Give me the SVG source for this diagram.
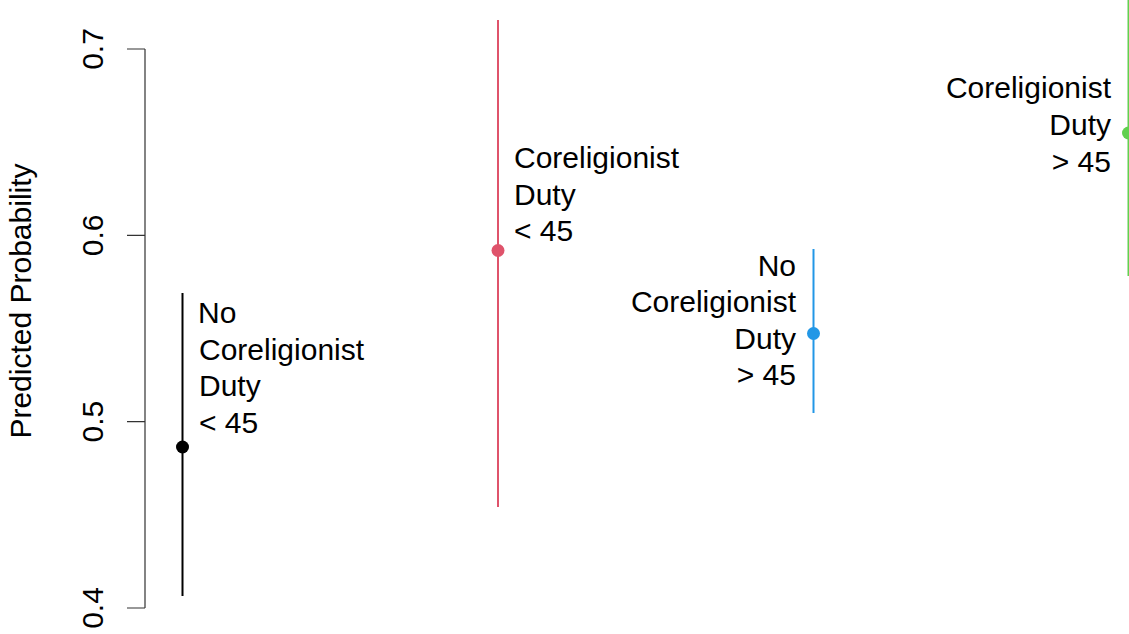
<svg xmlns="http://www.w3.org/2000/svg" width="1129" height="634" viewBox="0 0 1129 634">
<style>
text{font-family:"Liberation Sans",Arial,sans-serif;font-size:30px;fill:#000}
.axis{stroke:#333;stroke-width:1.2;fill:none}
.ci{stroke-width:2;fill:none}
.end{text-anchor:end}
</style>
<rect width="1129" height="634" fill="#fff"/>
<g id="y-axis">
<path class="axis" d="M145,49V608M127,49H145M127,235.3H145M127,421.7H145M127,608H145"/>
<text transform="translate(103,49) rotate(-90)" text-anchor="middle">0.7</text>
<text transform="translate(103,235.3) rotate(-90)" text-anchor="middle">0.6</text>
<text transform="translate(103,421.7) rotate(-90)" text-anchor="middle">0.5</text>
<text transform="translate(103,608) rotate(-90)" text-anchor="middle">0.4</text>
<text transform="translate(31,301) rotate(-90)" text-anchor="middle">Predicted Probability</text>
</g>
<g id="connectors">
<line class="ci" x1="182.5" y1="293" x2="182.5" y2="596" stroke="#000"/>
<line class="ci" x1="498" y1="20" x2="498" y2="507" stroke="#DF536B"/>
<line class="ci" x1="813.5" y1="249" x2="813.5" y2="413" stroke="#2297E6" stroke-width="1.6"/>
<line class="ci" x1="1128.5" y1="0" x2="1128.5" y2="276" stroke="#61D04F"/>
</g>
<g id="node-no-lt45">
<circle cx="182.5" cy="447" r="6.5" fill="#000"/>
<text x="198" y="323">No</text>
<text x="199" y="360">Coreligionist</text>
<text x="199" y="396">Duty</text>
<text x="199" y="433">&lt; 45</text>
</g>
<g id="node-co-lt45">
<circle cx="498" cy="250.5" r="6.5" fill="#DF536B"/>
<text x="514" y="168">Coreligionist</text>
<text x="514" y="205">Duty</text>
<text x="514" y="241">&lt; 45</text>
</g>
<g id="node-no-gt45">
<circle cx="813.5" cy="333.5" r="6.5" fill="#2297E6"/>
<text class="end" x="796" y="276">No</text>
<text class="end" x="796" y="312">Coreligionist</text>
<text class="end" x="796" y="349">Duty</text>
<text class="end" x="796" y="385">&gt; 45</text>
</g>
<g id="node-co-gt45">
<circle cx="1128.5" cy="133" r="6.5" fill="#61D04F"/>
<text class="end" x="1111" y="98">Coreligionist</text>
<text class="end" x="1111" y="135">Duty</text>
<text class="end" x="1111" y="172">&gt; 45</text>
</g>
</svg>
